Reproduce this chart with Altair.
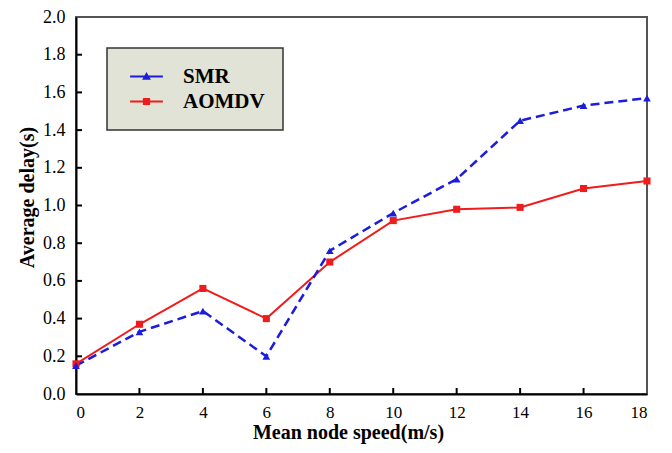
import altair as alt
import pandas as pd

# ---- data ----
speed = [0, 2, 4, 6, 8, 10, 12, 14, 16, 18]
smr = [0.15, 0.33, 0.44, 0.20, 0.76, 0.96, 1.14, 1.45, 1.53, 1.57]
aomdv = [0.16, 0.37, 0.56, 0.40, 0.70, 0.92, 0.98, 0.99, 1.09, 1.13]
series_names = ["SMR", "AOMDV"]
x_ticks = [0, 2, 4, 6, 8, 10, 12, 14, 16, 18]
y_ticks = [0.0, 0.2, 0.4, 0.6, 0.8, 1.0, 1.2, 1.4, 1.6, 1.8, 2.0]

df = pd.DataFrame({
    "speed": speed * 2,
    "delay": smr + aomdv,
    "series": ["SMR"] * len(speed) + ["AOMDV"] * len(speed),
})
xt = pd.DataFrame({"speed": x_ticks[1:-1]})
yt = pd.DataFrame({"delay": y_ticks[1:-1]})

W, H = 571, 377
FONT = "Liberation Serif"
colors = ["#1c1cdc", "#f01c1c"]
legend_shapes = [
    "M-4.1,-0.25H4.1V0.25H-4.1Z M0,-1.1L1.1,0.8H-1.1Z",
    "M-4.1,-0.25H4.1V0.25H-4.1Z M-0.9,-0.9H0.9V0.9H-0.9Z",
]

xenc = alt.X("speed:Q", scale=alt.Scale(domain=[0, 18], nice=False),
             axis=alt.Axis(values=x_ticks, format="d", title="Mean node speed(m/s)",
                           labelFont=FONT, titleFont=FONT, titleX=272))
yenc = alt.Y("delay:Q", scale=alt.Scale(domain=[0, 2], nice=False),
             axis=alt.Axis(values=y_ticks, format=".1f", title="Average delay(s)",
                           labelFont=FONT, titleFont=FONT, titleY=180))
color = alt.Color("series:N", scale=alt.Scale(domain=series_names, range=colors), title=None)

base = alt.Chart(df)

line_a = base.transform_filter("datum.series == 'AOMDV'").mark_line(strokeWidth=2).encode(
    x=xenc, y=yenc, color=color)
line_s = base.transform_filter("datum.series == 'SMR'").mark_line(
    strokeWidth=2.5, strokeDash=[9, 5]).encode(x=xenc, y=yenc, color=color)
pts_a = base.transform_filter("datum.series == 'AOMDV'").mark_point(
    filled=True, shape="square", size=50, opacity=1).encode(x=xenc, y=yenc, color=color)
pts_s = base.transform_filter("datum.series == 'SMR'").mark_point(
    filled=True, shape="triangle-up", size=60, opacity=1).encode(x=xenc, y=yenc, color=color)

legend_layer = base.transform_filter("false").mark_point(filled=True, opacity=1).encode(
    x=xenc, y=yenc, color=color,
    shape=alt.Shape("series:N", scale=alt.Scale(domain=series_names, range=legend_shapes),
                    title=None))

xtick_layer = alt.Chart(xt).mark_rule(color="black", strokeWidth=2).encode(
    x=xenc, y=alt.value(H), y2=alt.value(H - 6))
ytick_layer = alt.Chart(yt).mark_rule(color="black", strokeWidth=2).encode(
    y=yenc, x=alt.value(0), x2=alt.value(6))

chart = alt.layer(line_a, line_s, pts_a, pts_s, legend_layer, xtick_layer, ytick_layer).properties(
    width=W, height=H,
    autosize=alt.AutoSizeParams(type="none"),
    padding={"left": 68, "top": 9, "right": 12, "bottom": 51},
).configure(
    font=FONT
).configure_view(
    stroke="#555", strokeWidth=2
).configure_axis(
    grid=False, ticks=False, domainColor="black", domainWidth=2,
    labelFont=FONT, labelFontSize=18, labelColor="black",
    titleFont=FONT, titleFontSize=20, titleFontWeight="bold", titleColor="black",
).configure_axisX(
    labelPadding=10, labelFontSize=17, titlePadding=2,
).configure_axisY(
    labelPadding=11, titlePadding=5,
).configure_legend(
    orient="none", legendX=31, legendY=31,
    fillColor="#e1e3d6", strokeColor="#333", strokeWidth=1.5, padding=18,
    labelFont=FONT, labelFontSize=21, labelFontWeight="bold", labelColor="black",
    symbolSize=64, symbolOffset=11, labelOffset=26, rowPadding=3,
    symbolStrokeWidth=0,
)

chart.save("out.html", embed_options={"renderer": "svg", "actions": False})
